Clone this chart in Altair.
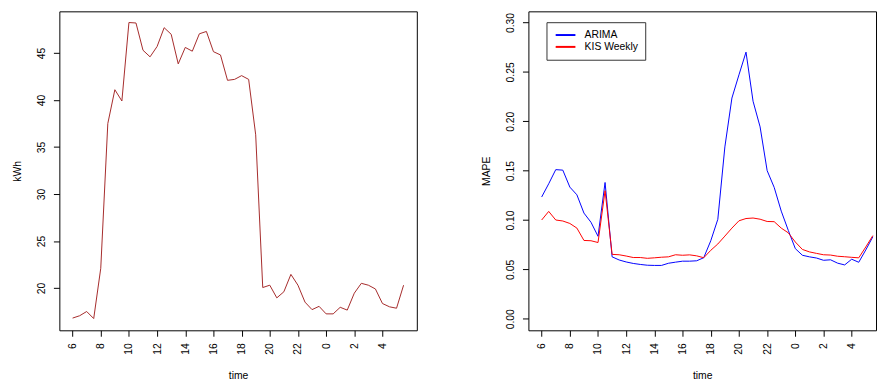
import altair as alt
import pandas as pd

# half-hour slots starting at 06:00
slots = list(range(48))
kwh = [16.8, 17.05, 17.5, 16.75, 22.1, 37.5, 41.1, 39.9, 48.25, 48.2,
       45.3, 44.6, 45.7, 47.7, 47.0, 43.85, 45.6, 45.2, 47.05, 47.3,
       45.15, 44.8, 42.1, 42.2, 42.6, 42.2, 36.3, 20.05, 20.3, 18.95,
       19.6, 21.45, 20.3, 18.5, 17.7, 18.05, 17.25, 17.25, 17.95, 17.65,
       19.45, 20.5, 20.3, 19.9, 18.35, 18.0, 17.85, 20.3]
arima = [0.1233, 0.1367, 0.151, 0.1505, 0.1333, 0.1255, 0.107, 0.0977, 0.0835, 0.138,
         0.0627, 0.0595, 0.0575, 0.056, 0.055, 0.0542, 0.054, 0.054, 0.0562, 0.0573,
         0.0583, 0.0583, 0.0587, 0.0618, 0.079, 0.1007, 0.174, 0.2235, 0.247, 0.270,
         0.2203, 0.1943, 0.150, 0.133, 0.109, 0.0895, 0.071, 0.0643, 0.0627, 0.0615,
         0.0592, 0.0597, 0.0563, 0.0545, 0.0603, 0.0572, 0.0697, 0.083]
kis = [0.100, 0.1087, 0.100, 0.099, 0.0965, 0.0918, 0.0793, 0.079, 0.0772, 0.1297,
       0.0652, 0.0648, 0.0635, 0.062, 0.062, 0.0612, 0.0617, 0.0623, 0.0627, 0.0648,
       0.0643, 0.0647, 0.0637, 0.0618, 0.0693, 0.0757, 0.0837, 0.0918, 0.0992, 0.1015,
       0.102, 0.1008, 0.0985, 0.0983, 0.0918, 0.087, 0.0777, 0.0702, 0.0677, 0.0662,
       0.0648, 0.0645, 0.0633, 0.0628, 0.0622, 0.0617, 0.0727, 0.0842]
series_names = ["ARIMA", "KIS Weekly"]
series_colors = ["#0000FF", "#FF0000"]
tick_slots = [0, 4, 8, 12, 16, 20, 24, 28, 32, 36, 40, 44]
tick_labels = ["6", "8", "10", "12", "14", "16", "18", "20", "22", "0", "2", "4"]
kwh_ticks = [20, 25, 30, 35, 40, 45]
mape_ticks = [0.0, 0.05, 0.10, 0.15, 0.20, 0.25, 0.30]

FONT = "Liberation Sans"
FS = 10.5

label_expr = ""
for s, l in zip(tick_slots, tick_labels):
    label_expr += f"datum.value == {s} ? '{l}' : "
label_expr += "''"

df_left = pd.DataFrame({"slot": slots, "kwh": kwh})
df_right = pd.DataFrame({
    "slot": slots * 2,
    "mape": arima + kis,
    "series": [series_names[0]] * 48 + [series_names[1]] * 48,
})

H = 323
W_LEFT = 362
W_RIGHT = 352
GAP = 113


def x_axis():
    return alt.Axis(values=tick_slots, labelExpr=label_expr, labelAngle=270,
                    labelAlign="right", labelBaseline="middle", labelPadding=6.5,
                    tickSize=6, title="time", titleY=46.3, titleBaseline="middle",
                    titleAlign="center")


def y_axis(title, values, fmt=None):
    kw = dict(values=values, labelAngle=270, labelAlign="center",
              labelBaseline="bottom", labelPadding=6.7, tickSize=6,
              title=title, titleAngle=270, titleX=-42.3, titleY=H / 2,
              titleAlign="center", titleBaseline="middle")
    if fmt:
        kw["format"] = fmt
    return alt.Axis(**kw)


left = alt.Chart(df_left).mark_line(color="#A52A2A", strokeWidth=1).encode(
    x=alt.X("slot:Q", scale=alt.Scale(domain=[-1.88, 48.88], nice=False, zero=False),
            axis=x_axis()),
    y=alt.Y("kwh:Q", scale=alt.Scale(domain=[15.5, 49.44], nice=False, zero=False),
            axis=y_axis("kWh", kwh_ticks)),
).properties(width=W_LEFT, height=H)

right = alt.Chart(df_right).mark_line(strokeWidth=1).encode(
    x=alt.X("slot:Q", scale=alt.Scale(domain=[-1.88, 47.45], nice=False, zero=False),
            axis=x_axis()),
    y=alt.Y("mape:Q", scale=alt.Scale(domain=[-0.0117, 0.3113], nice=False, zero=False),
            axis=y_axis("MAPE", mape_ticks, ".2f")),
    color=alt.Color("series:N",
                    scale=alt.Scale(domain=series_names, range=series_colors),
                    legend=alt.Legend(title=None, orient="none",
                                      legendX=W_LEFT + GAP + 18.3, legendY=11,
                                      strokeColor="#333333", fillColor="white", padding=7,
                                      symbolType="M-0.74,0H3.26", symbolSize=100,
                                      symbolStrokeWidth=2, labelOffset=19.6, rowPadding=0,
                                      labelFont=FONT, labelFontSize=FS, labelColor="black",
                                      direction="vertical")),
).properties(width=W_RIGHT, height=H)

chart = alt.hconcat(left, right, spacing=GAP, bounds="flush").properties(
    padding={"left": 4, "top": 0, "right": 0, "bottom": 0}
).configure_view(stroke="black", strokeWidth=1).configure_axis(
    grid=False, domain=False, labelFont=FONT, labelFontSize=FS, labelColor="black",
    titleFont=FONT, titleFontSize=FS, titleFontWeight="normal", titleColor="black",
    tickColor="black", tickWidth=1
)

chart.save("out.html", embed_options={"renderer": "svg", "actions": False})
